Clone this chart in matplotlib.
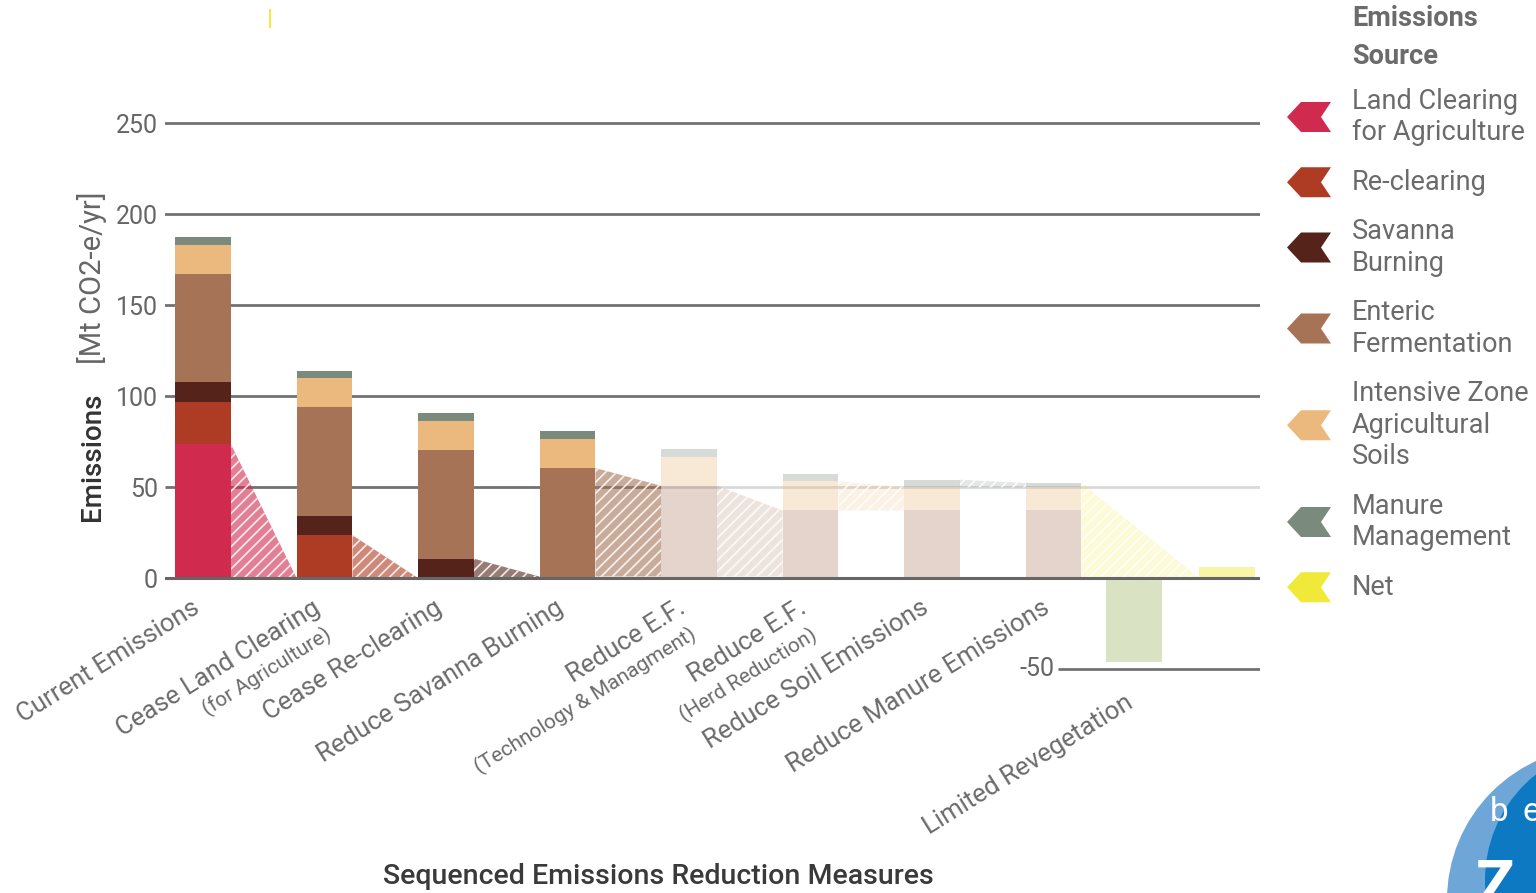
import matplotlib.pyplot as plt
import numpy as np
from matplotlib.colors import to_rgba
from matplotlib.patches import Polygon, Circle

plt.rcParams['font.family'] = ['Roboto', 'DejaVu Sans']
plt.rcParams['hatch.linewidth'] = 1.2

# emissions by source after each sequenced measure [Mt CO2-e/yr]
steps = ['Current Emissions', 'Cease Land Clearing', 'Cease Re-clearing',
         'Reduce Savanna Burning', 'Reduce E.F.', 'Reduce E.F.',
         'Reduce Soil Emissions', 'Reduce Manure Emissions']
step_notes = ['', '(for Agriculture)', '', '', '(Technology & Managment)',
              '(Herd Reduction)', '', '']
land_clearing = [73.4, 0, 0, 0, 0, 0, 0, 0]
re_clearing = [23.5, 23.5, 0, 0, 0, 0, 0, 0]
savanna_burning = [10.6, 10.6, 10.6, 0.8, 0.8, 0.8, 0.8, 0.8]
enteric = [59.6, 59.6, 59.6, 59.6, 49.9, 36.3, 36.3, 36.3]
ag_soils = [16.0, 16.0, 16.0, 16.0, 16.0, 16.0, 12.7, 12.7]
manure = [4.2, 4.2, 4.2, 4.2, 4.2, 4.2, 4.2, 2.4]
revegetation = -46.3
reveg_label = 'Limited Revegetation'

sources = ['Land Clearing\nfor Agriculture', 'Re-clearing', 'Savanna\nBurning',
           'Enteric\nFermentation', 'Intensive Zone\nAgricultural\nSoils',
           'Manure\nManagement', 'Net']
colors = ['#d02a4e', '#ae3b24', '#55231a', '#a67357', '#ebb97d', '#7a8a7d', '#f0e93a']
reveg_color = '#d9e3c4'
yticks = [0, 50, 100, 150, 200, 250]

layers = np.array([land_clearing, re_clearing, savanna_burning, enteric, ag_soils, manure])
tops = np.cumsum(layers, axis=0)
bottoms = tops - layers
totals = tops[-1]
net = totals[-1] + revegetation

xpos = np.array([0, 1, 2, 3, 4, 5, 6, 7, 7.66, 8.43])
w = 0.46
n_full = 4  # later measures are shown faded
alphas = [1.0 if i < n_full else 0.3 for i in range(len(steps))]

fig = plt.figure(figsize=(15.36, 8.93), dpi=100)
ax = fig.add_axes([165 / 1536, 1 - 687.2 / 893, 1095 / 1536, (687.2 - 95.7) / 893])
ax.set_xlim(-0.313, 8.70)
ax.set_ylim(-60, 265)

# stacked bars
for k in range(len(layers)):
    ax.bar(xpos[:8], layers[k], bottom=bottoms[k], width=w, linewidth=0,
           color=[to_rgba(colors[k], a) for a in alphas], zorder=3)
ax.bar(xpos[8], revegetation, width=w, color=reveg_color, linewidth=0, zorder=3)
ax.bar(xpos[9], net, width=w, color=to_rgba(colors[-1], 0.45), linewidth=0, zorder=3)

# hatched links showing the source removed at each step
for i in range(len(steps) - 1):
    k = np.argmax(np.abs(layers[:, i] - layers[:, i + 1]))
    x0 = xpos[i] + w / 2
    x1 = xpos[i + 1] - w / 2
    pts = [(x0, bottoms[k, i]), (x0, tops[k, i]), (x1, tops[k, i + 1]), (x1, bottoms[k, i + 1])]
    a = 0.6 if i < n_full else 0.2
    ax.add_patch(Polygon(pts, closed=True, facecolor=to_rgba(colors[k], a),
                         edgecolor=(1, 1, 1, 0.85), hatch='///', linewidth=0, zorder=3))
x0 = xpos[7] + w / 2
x1 = xpos[9] - w / 2
ax.add_patch(Polygon([(x0, 0), (x0, totals[-1]), (x1, 0)], closed=True,
                     facecolor=to_rgba(colors[-1], 0.2), edgecolor=(1, 1, 1, 0.85),
                     hatch='///', linewidth=0, zorder=3))

# gridlines
grid_c = '#727272'
for v in yticks[2:]:
    ax.axhline(v, color=grid_c, lw=2, zorder=1)
split = xpos[4] - w / 2
ax.hlines(50, -0.313, split, color=grid_c, lw=2, zorder=1)
ax.hlines(50, split, 8.70, color='#d9d9d9', lw=2, zorder=1)
ax.axhline(0, color='#666666', lw=2.2, zorder=4)
ax.hlines(-50, 7.04, 8.70, color=grid_c, lw=2, zorder=1)
ax.text(7.01, -50, '-50', ha='right', va='center', fontsize=18, color='#666666')

ax.set_yticks(yticks)
ax.set_xticks([])
ax.tick_params(axis='y', length=0, pad=5, labelsize=18, labelcolor='#666666')
for s in ax.spines.values():
    s.set_visible(False)

# step labels
lab_c = '#6b6b6b'
for i, (name, note) in enumerate(zip(steps, step_notes)):
    ax.annotate(name, xy=(xpos[i], 0), xytext=(-6, -28), textcoords='offset pixels',
                ha='right', va='center', rotation=32, rotation_mode='anchor',
                fontsize=18.5, color=lab_c)
    if note:
        ax.annotate(note, xy=(xpos[i], 0), xytext=(5, -55), textcoords='offset pixels',
                    ha='right', va='center', rotation=32, rotation_mode='anchor',
                    fontsize=15, color=lab_c)
ax.annotate(reveg_label, xy=(xpos[8], revegetation), xytext=(-3, -38),
            textcoords='offset pixels', ha='right', va='center', rotation=32,
            rotation_mode='anchor', fontsize=18.5, color=lab_c)

fig.text(92 / 1536, 1 - 457 / 893, 'Emissions', rotation=90, ha='center', va='center',
         fontsize=20, fontweight='medium', color='#333333')
fig.text(92 / 1536, 1 - 278 / 893, '[Mt CO2-e/yr]', rotation=90, ha='center', va='center',
         fontsize=21, color='#666666')
fig.text(658 / 1536, 1 - 876 / 893, 'Sequenced Emissions Reduction Measures',
         ha='center', va='center', fontsize=20.5, fontweight='medium', color='#3a3a3a')

# legend + logo drawn in pixel space
ov = fig.add_axes([0, 0, 1, 1], zorder=-1)
ov.set_xlim(0, 1536)
ov.set_ylim(893, 0)
ov.axis('off')

leg_c = '#6b6b6b'
ov.text(1352, 19, 'Emissions', fontsize=19.5, fontweight='bold', color=leg_c, va='center')
ov.text(1352, 56, 'Source', fontsize=19.5, fontweight='bold', color=leg_c, va='center')
line_h = 31.5
yc = 117
prev_n = None
for name, c in zip(sources, colors):
    lines = name.split('\n')
    n = len(lines)
    if prev_n is not None:
        yc += (prev_n + n) / 2 * line_h + 18
    prev_n = n
    chev = np.array([(-22, 0), (-8, -15), (22, -15), (12, 0), (22, 15), (-8, 15)]) + [1309, yc]
    ov.add_patch(Polygon(chev, closed=True, color=c, linewidth=0))
    for j, ln in enumerate(lines):
        ov.text(1352, yc + (j - (n - 1) / 2) * line_h, ln, fontsize=19.5,
                color=leg_c, va='center')

ov.add_patch(Circle((1600, 900), 153, color='#6fa6d8', linewidth=0))
ov.add_patch(Circle((1620, 880), 135, color='#0d79c2', linewidth=0))
ov.text(1490, 812, 'b', fontsize=24, color='white', va='center')
ov.text(1522, 812, 'e', fontsize=24, color='white', va='center')
ov.text(1476, 858, 'Z', fontsize=46, fontweight='bold', color='white', va='top')
ov.plot([270, 270], [10, 27], color='#f2ea4d', lw=1.5)

fig.savefig('out.png', dpi=100)
